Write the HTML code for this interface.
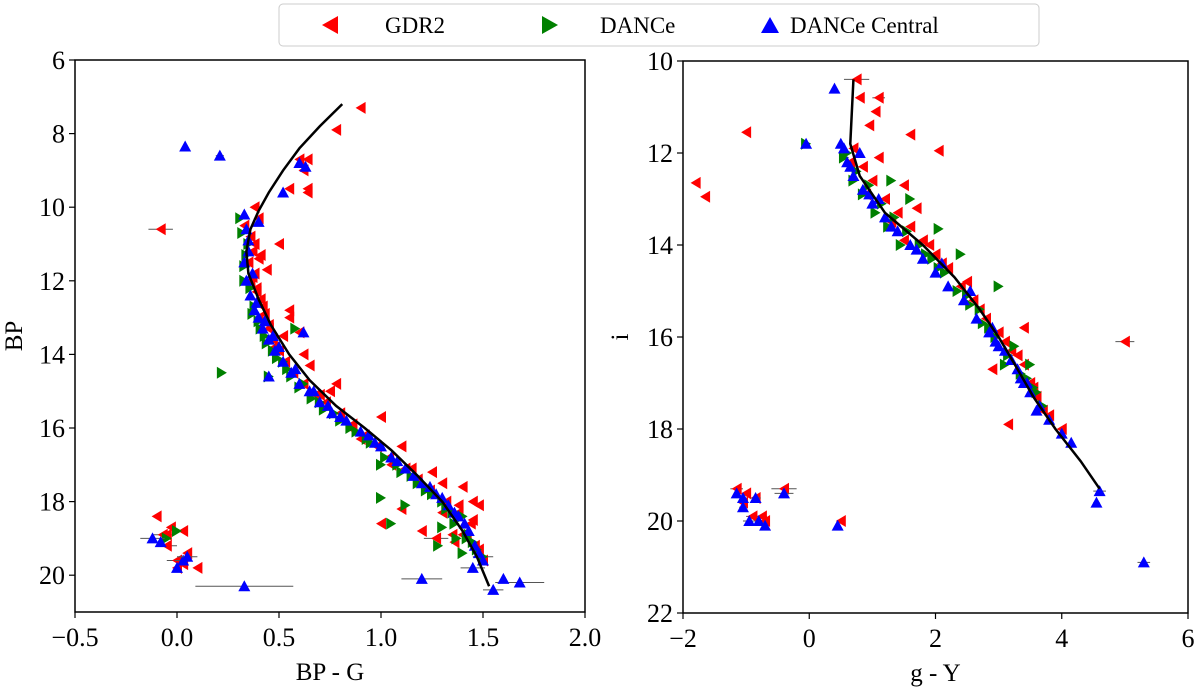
<!DOCTYPE html>
<html><head><meta charset="utf-8"><style>
body{margin:0;background:#fff;}
svg{display:block;font-family:"Liberation Serif",serif;}
</style></head><body>
<svg id="c" width="1200" height="689" viewBox="0 0 1200 689" xmlns="http://www.w3.org/2000/svg">
<g id="legend">
<rect x="279" y="4" width="760" height="42" rx="4" fill="#fff" stroke="#ccc"/>
<polygon points="322,25 338,16 338,34" fill="red"/>
<text x="385" y="33" font-size="23">GDR2</text>
<polygon points="558,25 542,16 542,34" fill="green"/>
<text x="600" y="33" font-size="23">DANCe</text>
<polygon points="770,17 761,33 779,33" fill="blue"/>
<text x="790" y="33" font-size="23">DANCe Central</text>
</g>
</svg>
<script>
// ---- Left panel data (BP-G vs BP)
const L_xTicks=[-0.5,0.0,0.5,1.0,1.5,2.0];
const L_yTicks=[6,8,10,12,14,16,18,20];
const L_lineX=[0.81,0.70,0.60,0.52,0.45,0.40,0.36,0.34,0.35,0.40,0.46,0.55,0.65,0.78,0.92,1.05,1.18,1.30,1.40,1.47,1.53];
const L_lineY=[7.2,7.8,8.4,9.0,9.6,10.1,10.6,11.2,11.8,12.5,13.2,14.0,14.7,15.4,16.0,16.6,17.3,18.0,18.8,19.5,20.3];
const L_redX=[0.90,0.78,0.60,0.64,0.62,0.55,0.64,0.64,-0.08,0.50,0.38,0.40,0.38,0.37,0.39,0.42,0.36,0.40,0.45,0.48,0.52,0.55,0.60,0.62,0.55,0.65,0.78,0.75,0.70,0.90,0.85,1.00,1.10,1.05,1.15,1.25,1.30,1.40,1.45,1.38,1.48,1.30,1.45,1.27,1.00,1.10,1.20,1.35,1.42,1.48,-0.10,-0.07,-0.05,-0.03,0.03,-0.05,0.00,0.05,0.10,0.03,0.00,0.33,0.35,0.41,0.44,0.36,0.38,0.40,0.37,0.39,0.41,0.43,0.45,0.47,0.50,0.53,0.57,0.62,0.68,0.73,0.80,0.86,0.92,0.98,1.04,1.12,1.18,1.24,1.32,1.38,1.44,1.40,1.46,1.36,1.50];
const L_redY=[7.3,7.9,8.7,8.7,9.0,9.5,9.5,9.6,10.6,11.0,10.0,10.3,11.8,11.2,12.3,12.7,12.0,13.0,13.3,13.8,13.5,13.0,13.4,14.0,12.8,14.3,14.8,15.0,15.1,16.3,16.0,15.7,16.5,17.0,17.1,17.2,17.5,17.6,18.0,18.1,18.1,18.3,18.5,19.0,18.6,18.2,18.8,18.9,19.0,19.3,18.4,18.9,18.9,18.7,18.8,19.2,19.6,19.4,19.8,19.7,19.8,10.5,11.5,11.3,11.7,10.8,11.0,11.4,11.9,12.2,12.5,12.9,13.2,13.6,13.9,14.2,14.5,14.8,15.1,15.3,15.6,15.9,16.2,16.5,16.8,17.1,17.4,17.7,18.0,18.3,18.6,18.9,19.2,19.1,19.6];
const L_redErr=[0,0,0,0,0,0,0,0,0.06,0,0,0,0,0,0,0,0,0,0,0,0,0,0,0,0,0,0,0,0,0,0,0,0,0,0,0,0,0,0,0,0,0,0,0.06,0,0,0,0,0,0,0,0.05,0,0,0,0.05,0.05,0,0,0,0,0,0,0,0,0,0,0,0,0,0,0,0,0,0,0,0,0,0,0,0,0,0,0,0,0,0,0,0,0,0,0,0,0,0];
const L_greenX=[0.22,1.00,1.00,1.05,1.12,1.30,1.35,1.45,1.50,1.40,0.31,0.32,0.35,0.33,0.36,0.38,0.40,0.43,0.47,0.52,0.56,0.60,0.66,0.72,0.80,0.88,0.95,1.02,1.10,1.18,1.25,1.32,1.40,1.43,1.28,1.37,0.45,0.58,-0.05,0.00,0.34,0.33,0.37,0.41,0.44,0.49,0.54,0.62,0.70,0.77,0.85,0.93,1.08,1.15,1.22,1.30,1.36,1.42,1.47];
const L_greenY=[14.5,17.0,17.9,18.6,18.1,18.7,18.3,19.1,19.5,19.4,10.3,10.7,11.0,11.6,12.2,12.7,13.1,13.5,13.9,14.2,14.6,14.9,15.2,15.5,15.8,16.1,16.4,16.8,17.2,17.5,17.8,18.2,18.4,18.9,19.2,19.0,14.6,13.3,19.0,18.8,11.3,12.0,12.9,13.3,13.7,14.1,14.4,14.8,15.3,15.6,16.0,16.3,17.0,17.3,17.7,18.0,18.6,19.0,19.3];
const L_greenErr=[0,0,0,0,0,0,0,0,0.05,0,0,0,0,0,0,0,0,0,0,0,0,0,0,0,0,0,0,0,0,0,0,0,0,0,0,0,0,0,0,0,0,0,0,0,0,0,0,0,0,0,0,0,0,0,0,0,0,0,0];
const L_blueX=[0.04,0.21,0.60,0.63,0.52,0.40,0.33,0.35,0.33,0.34,0.36,0.38,0.40,0.42,0.45,0.48,0.52,0.56,0.60,0.65,0.70,0.76,0.83,0.90,0.97,1.05,1.12,1.20,1.27,1.33,1.38,1.43,1.46,1.50,0.33,1.20,1.55,1.68,1.60,1.45,-0.12,-0.08,0.03,0.00,0.05,0.45,0.62,0.34,0.35,0.37,0.39,0.43,0.47,0.50,0.58,0.67,0.74,0.80,0.94,1.00,1.08,1.16,1.24,1.30,1.36,1.41,1.48];
const L_blueY=[8.35,8.6,8.8,8.9,9.6,10.4,10.2,10.9,11.5,12.0,12.4,12.8,13.0,13.3,13.6,13.9,14.2,14.5,14.8,15.0,15.3,15.6,15.8,16.1,16.4,16.8,17.1,17.5,17.8,18.1,18.4,18.8,19.2,19.6,20.3,20.1,20.4,20.2,20.1,19.8,19.0,19.1,19.6,19.8,19.5,14.6,13.4,10.6,11.2,11.8,12.6,13.1,13.5,13.8,14.4,15.0,15.4,15.7,16.2,16.5,16.9,17.3,17.6,17.9,18.3,18.6,19.4];
const L_blueErr=[0,0.02,0,0,0,0,0,0,0,0,0,0,0,0,0,0,0,0,0,0,0,0,0,0,0,0,0,0,0,0,0,0,0,0,0.24,0.1,0.05,0.12,0,0.06,0.06,0,0.04,0,0.05,0,0,0,0,0,0,0,0,0,0,0,0,0,0,0,0,0,0,0,0,0,0];
// ---- Right panel data (g-Y vs i)
const R_xTicks=[-2,0,2,4,6];
const R_yTicks=[10,12,14,16,18,20,22];
const R_lineX=[0.70,0.65,0.80,1.20,1.80,2.30,2.70,3.00,3.30,3.55,3.90,4.30,4.60];
const R_lineY=[10.4,11.8,12.5,13.3,14.0,14.7,15.4,16.0,16.7,17.3,18.0,18.7,19.3];
const R_redX=[0.75,0.80,1.10,1.05,0.95,-1.00,1.60,2.05,-1.80,-1.65,5.00,3.15,-1.15,-1.00,-0.85,-0.40,-0.90,-0.75,-0.70,0.50,-1.05,0.70,0.85,1.00,1.20,1.40,1.60,1.80,2.00,2.20,2.40,2.60,2.80,3.00,3.20,3.40,3.50,3.60,3.80,4.00,1.50,1.70,2.90,3.40,1.10,0.65,0.90,1.30,1.50,1.90,2.10,2.50,2.70,3.10,3.30,3.55,3.70];
const R_redY=[10.4,10.8,10.8,11.1,11.4,11.55,11.6,11.95,12.65,12.95,16.1,17.9,19.3,19.4,19.5,19.3,19.9,19.9,20.0,20.0,19.6,11.9,12.3,12.6,13.0,13.3,13.6,13.9,14.2,14.5,14.9,15.2,15.6,15.9,16.3,16.6,17.0,17.3,17.7,18.0,12.7,13.2,16.7,15.8,12.1,12.2,12.9,13.5,13.9,14.0,14.4,14.8,15.4,16.1,16.4,17.1,17.6];
const R_redErr=[0.2,0,0.1,0,0,0.05,0,0,0.05,0,0.15,0.05,0.1,0.05,0.08,0.2,0.1,0.08,0.05,0.06,0.05,0,0,0,0,0,0,0,0,0,0,0,0,0,0,0,0,0,0,0,0,0,0,0,0,0,0,0,0,0,0,0,0,0,0,0,0];
const R_greenX=[-0.05,2.40,3.00,2.05,0.60,0.75,0.95,1.15,1.35,1.55,1.75,1.95,2.15,2.35,2.55,2.75,2.95,3.15,3.35,3.55,3.70,1.30,1.60,2.70,3.10,3.45,0.55,0.70,0.85,1.05,1.25,1.45,1.85,2.05,2.50,2.85,3.25,3.50,3.60];
const R_greenY=[11.8,14.2,14.9,13.65,12.0,12.4,12.7,13.1,13.4,13.7,14.0,14.3,14.6,15.0,15.3,15.7,16.0,16.4,16.8,17.1,17.5,12.6,13.0,15.4,16.6,16.9,12.1,12.6,12.9,13.3,13.6,14.0,14.2,14.5,15.1,15.8,16.2,16.6,17.2];
const R_greenErr=[0.05,0,0,0,0,0,0,0,0,0,0,0,0,0,0,0,0,0,0,0,0,0,0,0,0,0,0,0,0,0,0,0,0,0,0,0,0,0,0];
const R_blueX=[0.40,0.50,-0.05,4.60,4.55,5.30,-1.15,-1.05,-0.85,-0.40,-0.95,-0.80,-0.70,0.45,-1.05,0.60,0.70,0.85,1.00,1.20,1.40,1.60,1.80,2.00,2.20,2.45,2.65,2.85,3.00,3.20,3.35,3.50,3.65,3.80,4.00,4.15,1.10,2.90,3.40,0.80,0.55,0.65,0.95,1.30,1.70,2.10,2.55,2.95,3.10,3.30,3.45,3.60];
const R_blueY=[10.6,11.8,11.8,19.35,19.6,20.9,19.4,19.5,19.5,19.4,20.0,20.0,20.1,20.1,19.7,12.2,12.5,12.8,13.1,13.4,13.7,14.0,14.3,14.6,14.9,15.2,15.6,15.9,16.2,16.5,16.9,17.2,17.5,17.8,18.1,18.3,13.0,15.8,17.0,12.0,11.9,12.3,12.9,13.6,14.1,14.4,15.0,16.1,16.3,16.7,17.0,17.6];
const R_blueErr=[0,0,0,0.1,0.05,0.1,0.05,0,0.08,0.15,0.1,0,0,0,0.06,0,0,0,0,0,0,0,0,0,0,0,0,0,0,0,0,0,0,0,0,0,0,0,0,0,0,0,0,0,0,0,0,0,0,0,0,0];

const NS='http://www.w3.org/2000/svg';
const svg=document.getElementById('c');
function mk(tag,attrs,parent){const e=document.createElementNS(NS,tag);for(const k in attrs)e.setAttribute(k,attrs[k]);(parent||svg).appendChild(e);return e;}

function panel(p){
  const g=mk('g',{});
  
  
  const sx=v=>p.x0+(v-p.xmin)/(p.xmax-p.xmin)*(p.x1-p.x0);
  const sy=v=>p.y0+(v-p.ymin)/(p.ymax-p.ymin)*(p.y1-p.y0);
  function series(xs,ys,errs,color,kind,nm){
    const sg=mk('g',{},g);
    
    
    for(let i=0;i<xs.length;i++){
      const cx=sx(xs[i]),cy=sy(ys[i]);
      if(errs[i]>0){
        const ln=mk('line',{x1:sx(xs[i]-errs[i]),x2:sx(xs[i]+errs[i]),y1:cy,y2:cy,stroke:'#555','stroke-width':1},sg);
        
        
      }
      let pts;
      if(kind==='L')pts=`${cx-5},${cy} ${cx+5},${cy-6} ${cx+5},${cy+6}`;
      else if(kind==='R')pts=`${cx+5},${cy} ${cx-5},${cy-6} ${cx-5},${cy+6}`;
      else pts=`${cx},${cy-6} ${cx-6},${cy+5} ${cx+6},${cy+5}`;
      const m=mk('polygon',{points:pts,fill:color},sg);
      
      
    }
  }
  series(p.rx,p.ry,p.re,'red','L','gdr2-series');
  series(p.gx,p.gy,p.ge,'green','R','dance-series');
  series(p.bx,p.by,p.be,'blue','U','dance-central-series');
  let d='';
  for(let i=0;i<p.lx.length;i++)d+=(i?'L':'M')+sx(p.lx[i])+','+sy(p.ly[i]);
  const line=mk('path',{d:d,fill:'none',stroke:'#000','stroke-width':2.5},g);
  
  
  const fr=mk('rect',{x:p.x0,y:p.y0,width:p.x1-p.x0,height:p.y1-p.y0,fill:'none',stroke:'#000','stroke-width':1.5},g);
  
  
  p.xt.forEach(v=>{
    const x=sx(v);
    const t=mk('line',{x1:x,x2:x,y1:p.y1,y2:p.y1+6,stroke:'#000','stroke-width':1.2},g);
    
    
    const lb=mk('text',{x:x,y:p.y1+34,'font-size':26,'text-anchor':'middle'},g);
    lb.textContent=(v<0?'\u2212':'')+Math.abs(v).toFixed(p.xdec);
    
    
  });
  p.yt.forEach(v=>{
    const y=sy(v);
    const t=mk('line',{x1:p.x0-6,x2:p.x0,y1:y,y2:y,stroke:'#000','stroke-width':1.2},g);
    
    
    const lb=mk('text',{x:p.x0-10,y:y+9,'font-size':26,'text-anchor':'end'},g);
    lb.textContent=String(v);
    
    
  });
  const xl=mk('text',{x:(p.x0+p.x1)/2,y:p.y1+68,'font-size':25,'text-anchor':'middle'},g);
  xl.textContent=p.xlabel;
  
  
  const yl=mk('text',{x:p.ylx,y:(p.y0+p.y1)/2,'font-size':25,'text-anchor':'middle',transform:`rotate(-90 ${p.ylx} ${(p.y0+p.y1)/2})`},g);
  yl.textContent=p.ylabel;
  
  
}
panel({name:'left-panel',x0:75,x1:585,y0:60,y1:612,xmin:-0.5,xmax:2.0,ymin:6,ymax:21,xt:L_xTicks,yt:L_yTicks,xdec:1,
  lx:L_lineX,ly:L_lineY,rx:L_redX,ry:L_redY,re:L_redErr,gx:L_greenX,gy:L_greenY,ge:L_greenErr,bx:L_blueX,by:L_blueY,be:L_blueErr,
  xlabel:'BP - G',ylabel:'BP',ylx:22});
panel({name:'right-panel',x0:683,x1:1188,y0:61,y1:613,xmin:-2,xmax:6,ymin:10,ymax:22,xt:R_xTicks,yt:R_yTicks,xdec:0,
  lx:R_lineX,ly:R_lineY,rx:R_redX,ry:R_redY,re:R_redErr,gx:R_greenX,gy:R_greenY,ge:R_greenErr,bx:R_blueX,by:R_blueY,be:R_blueErr,
  xlabel:'g - Y',ylabel:'i',ylx:628});
svg.appendChild(document.getElementById('legend'));
</script>
</body></html>
